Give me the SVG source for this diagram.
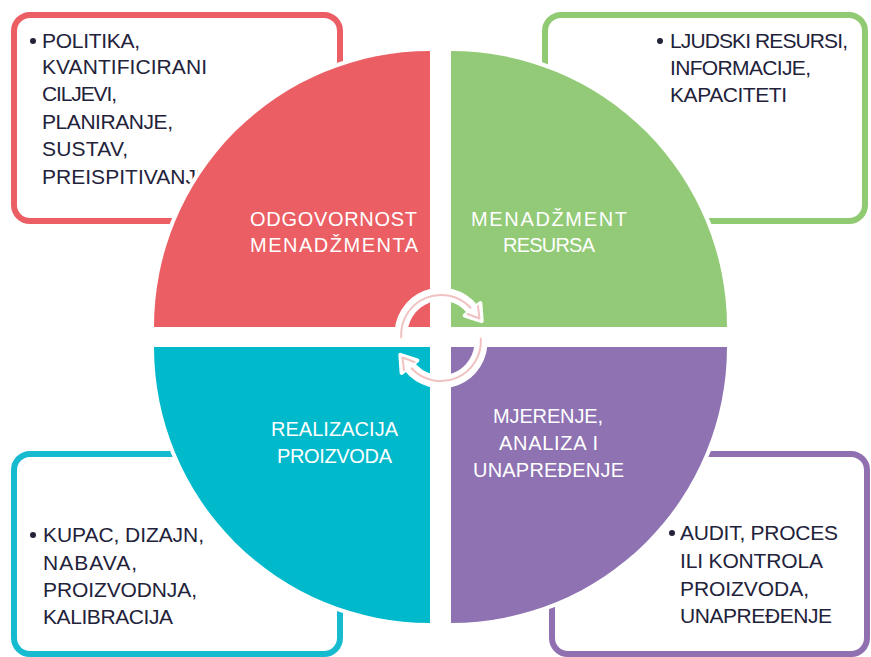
<svg xmlns="http://www.w3.org/2000/svg" width="871" height="657" viewBox="0 0 871 657">
<style>
.box{fill:#ffffff;stroke-width:6}
.bt{font-family:"Liberation Sans",Arial,sans-serif;font-size:21px;fill:#22223a}
.bul{fill:#22223a}
.q{stroke:#ffffff;stroke-width:8;paint-order:stroke}
.ql{font-family:"Liberation Sans",Arial,sans-serif;font-size:20px;fill:#ffffff}
.aw{fill:none;stroke:#ffffff;stroke-width:13;stroke-linecap:round}
.ah{fill:#ffffff;stroke:#ffffff;stroke-width:4;stroke-linejoin:round}
.ap{fill:none;stroke:#f0c2c2;stroke-width:2;stroke-linecap:round;stroke-linejoin:round}
</style>
<rect width="871" height="657" fill="#ffffff"/>

<g id="box-odgovornost">
<rect class="box" x="14" y="15" width="326" height="206" rx="16" stroke="#eb5e63"/>
<circle class="bul" cx="33" cy="41" r="3"/>
<text class="bt" x="42" y="48" textLength="98">POLITIKA,</text>
<text class="bt" x="42" y="74" textLength="165">KVANTIFICIRANI</text>
<text class="bt" x="42" y="101" textLength="75">CILJEVI,</text>
<text class="bt" x="42" y="129" textLength="131">PLANIRANJE,</text>
<text class="bt" x="42" y="156" textLength="86">SUSTAV,</text>
<text class="bt" x="42" y="184" textLength="168">PREISPITIVANJE</text>
</g>

<g id="box-resursi">
<rect class="box" x="545" y="15" width="320" height="206" rx="16" stroke="#90cb74"/>
<circle class="bul" cx="660" cy="41" r="3"/>
<text class="bt" x="670" y="48" textLength="178">LJUDSKI RESURSI,</text>
<text class="bt" x="670" y="75" textLength="141">INFORMACIJE,</text>
<text class="bt" x="670" y="102" textLength="117">KAPACITETI</text>
</g>

<g id="box-realizacija">
<rect class="box" x="14" y="454" width="326" height="200" rx="16" stroke="#17bbcf"/>
<circle class="bul" cx="33" cy="535" r="3"/>
<text class="bt" x="43" y="542" textLength="161">KUPAC, DIZAJN,</text>
<text class="bt" x="43" y="570" textLength="94">NABAVA,</text>
<text class="bt" x="43" y="597" textLength="154">PROIZVODNJA,</text>
<text class="bt" x="43" y="624" textLength="130">KALIBRACIJA</text>
</g>

<g id="box-mjerenje">
<rect class="box" x="552" y="454" width="315" height="200" rx="16" stroke="#9070b1"/>
<circle class="bul" cx="672" cy="533" r="3"/>
<text class="bt" x="680" y="540" textLength="158">AUDIT, PROCES</text>
<text class="bt" x="680" y="568" textLength="143">ILI KONTROLA</text>
<text class="bt" x="680" y="596" textLength="129">PROIZVODA,</text>
<text class="bt" x="680" y="623" textLength="152">UNAPREĐENJE</text>
</g>

<g id="q-odgovornost">
<path class="q" fill="#eb5e63" d="M430,327 L154,327 A276,276 0 0 1 430,51 Z"/>
<text class="ql" x="250" y="226" textLength="167">ODGOVORNOST</text>
<text class="ql" x="250" y="252" textLength="168">MENADŽMENTA</text>
</g>

<g id="q-resursi">
<path class="q" fill="#92ca77" d="M451,327 L451,51 A276,276 0 0 1 727,327 Z"/>
<text class="ql" x="471" y="226" textLength="156">MENADŽMENT</text>
<text class="ql" x="503" y="252" textLength="92">RESURSA</text>
</g>

<g id="q-realizacija">
<path class="q" fill="#00b9cb" d="M430,347 L430,623 A276,276 0 0 1 154,347 Z"/>
<text class="ql" x="271" y="436" textLength="127">REALIZACIJA</text>
<text class="ql" x="277" y="463" textLength="115">PROIZVODA</text>
</g>

<g id="q-mjerenje">
<path class="q" fill="#8e72b2" d="M451,347 L727,347 A276,276 0 0 1 451,623 Z"/>
<text class="ql" x="493" y="423" textLength="110">MJERENJE,</text>
<text class="ql" x="499" y="450" textLength="99">ANALIZA I</text>
<text class="ql" x="473" y="477" textLength="151">UNAPREĐENJE</text>
</g>

<g id="connectors">
<g id="arrow-top">
<path class="aw" d="M401.2,337.5 A40,40 0 0 1 472.5,309.4"/>
<polygon class="ah" points="464.6,315.5 480.4,303.2 481.7,321.2"/>
<path class="ap" d="M401.2,337.5 A40,40 0 0 1 470.5,307.8"/>
<polyline class="ap" points="467.5,314 479.5,318.5 478,306"/>
</g>
<g id="arrow-bottom" transform="rotate(180 441 338)">
<path class="aw" d="M401.2,337.5 A40,40 0 0 1 472.5,309.4"/>
<polygon class="ah" points="464.6,315.5 480.4,303.2 481.7,321.2"/>
<path class="ap" d="M401.2,337.5 A40,40 0 0 1 470.5,307.8"/>
<polyline class="ap" points="467.5,314 479.5,318.5 478,306"/>
</g>
</g>
</svg>
